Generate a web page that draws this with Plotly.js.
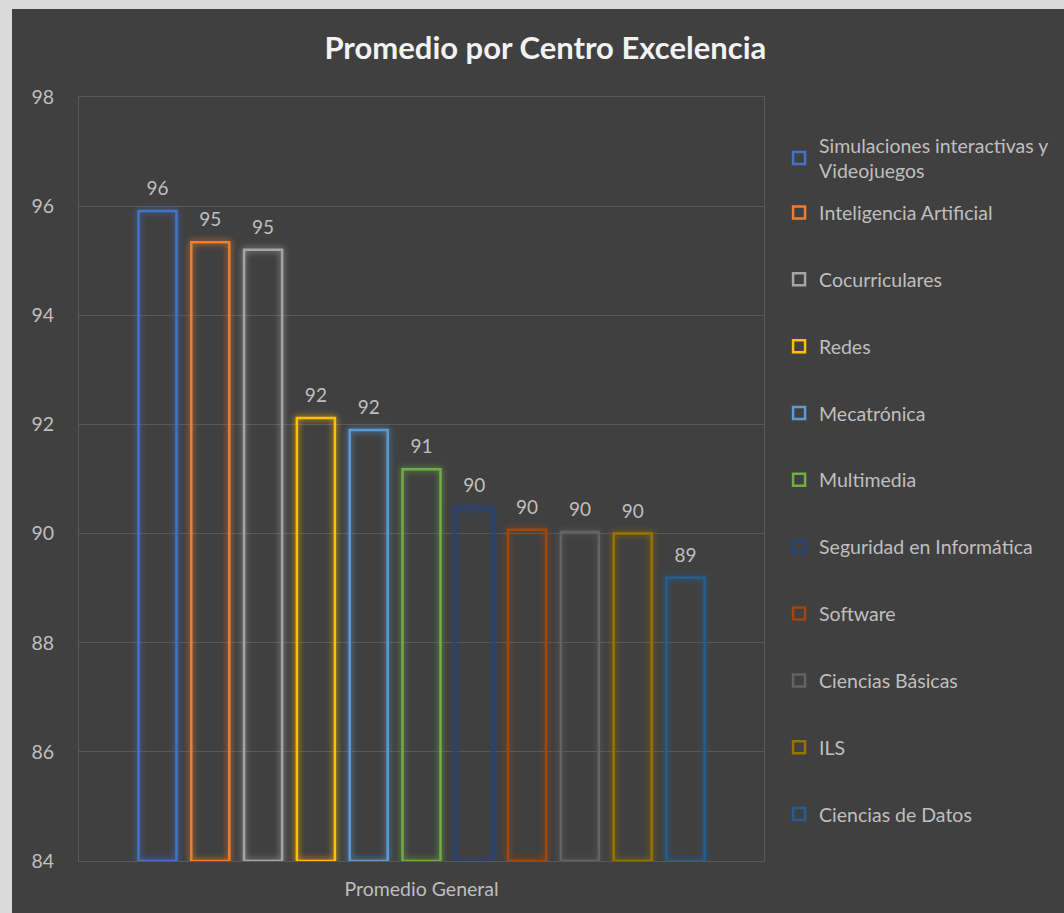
<!DOCTYPE html>
<html>
<head>
<meta charset="utf-8">
<script src="https://cdn.plot.ly/plotly-3.0.1.min.js"></script>
<style>
  html, body { margin:0; padding:0; background:#dadada; width:1064px; height:913px; overflow:hidden; }
  #chart { position:absolute; left:12px; top:9px; width:1052px; height:904px; }
</style>
</head>
<body>
<div id="chart"></div>
<script>
const category = ["Promedio General"];
const centers = ["Simulaciones interactivas y<br>Videojuegos", "Inteligencia Artificial", "Cocurriculares", "Redes", "Mecatrónica", "Multimedia", "Seguridad en Informática", "Software", "Ciencias Básicas", "ILS", "Ciencias de Datos"];
const promedios = [95.91, 95.34, 95.20, 92.12, 91.90, 91.18, 90.47, 90.07, 90.03, 90.00, 89.19];
const colors = ["#4472C4", "#ED7D31", "#A5A5A5", "#FFC000", "#5B9BD5", "#70AD47", "#264478", "#9E480E", "#636363", "#997300", "#255E91"];
const yTicks = [84, 86, 88, 90, 92, 94, 96, 98];
const BASE = 84;

const font = "Lato, 'Open Sans', sans-serif";
const legendFont = { family: font, size: 19.5, color: "#bfbfbf" };

const data = centers.map((name, i) => ({
  type: "bar",
  name: name,
  x: category,
  y: [promedios[i] - BASE],
  base: BASE,
  text: [promedios[i].toFixed(0)],
  textposition: "outside",
  constraintext: "none",
  cliponaxis: false,
  textfont: { family: font, size: 19, color: "#bfbfbf" },
  hovertemplate: name + ": " + promedios[i] + "<extra></extra>",
  legendgroup: "g" + i,
  legend: i === 0 ? "legend" : "legend2",
  marker: { color: "rgba(0,0,0,0)", line: { color: colors[i], width: 2.5 } }
}));

const layout = {
  width: 1052, height: 904,
  paper_bgcolor: "#404040", plot_bgcolor: "#404040",
  margin: { l: 67, r: 300, t: 88, b: 52, autoexpand: false },
  title: { text: "<b>Promedio por Centro Excelencia</b>", x: 0.507, xref: "container", xanchor: "center",
           y: 0.957, yref: "container", yanchor: "middle",
           font: { family: font, size: 31, color: "#f2f2f2" } },
  barmode: "group",
  bargap: 0.152,
  bargroupgap: 0.28,
  showlegend: true,
  legend: { x: 1.022, xanchor: "left", y: 0.962, yanchor: "top", bgcolor: "rgba(0,0,0,0)",
            font: legendFont, itemwidth: 30 },
  legend2: { x: 1.022, xanchor: "left", y: 0.874, yanchor: "top", bgcolor: "rgba(0,0,0,0)",
            font: legendFont, tracegroupgap: 38.5, traceorder: "grouped", itemwidth: 30 },
  xaxis: { type: "category", showgrid: false, showline: true, mirror: true, linecolor: "#595959", linewidth: 1,
           ticks: "", ticklabelstandoff: 11, tickfont: { family: font, size: 19.5, color: "#bfbfbf" }, fixedrange: true },
  yaxis: { range: [84, 98], tickvals: yTicks, showgrid: true, gridcolor: "#595959", gridwidth: 1,
           showline: true, mirror: true, linecolor: "#595959", zeroline: false, ticks: "",
           ticklabelstandoff: 20,
           tickfont: { family: font, size: 19.5, color: "#bfbfbf" }, fixedrange: true }
};

Plotly.newPlot("chart", data, layout, { displayModeBar: false, staticPlot: true }).then(() => {
  document.querySelectorAll("#chart .barlayer .trace").forEach((t, i) => {
    t.querySelectorAll("path").forEach(p => {
      p.style.filter = "drop-shadow(0 0 3px " + colors[i] + ")";
    });
    t.querySelectorAll("text.bartext").forEach(tx => {
      const tr = tx.getAttribute("transform") || "";
      tx.setAttribute("transform", "translate(0,-9) " + tr);
    });
  });
});
</script>
</body>
</html>
